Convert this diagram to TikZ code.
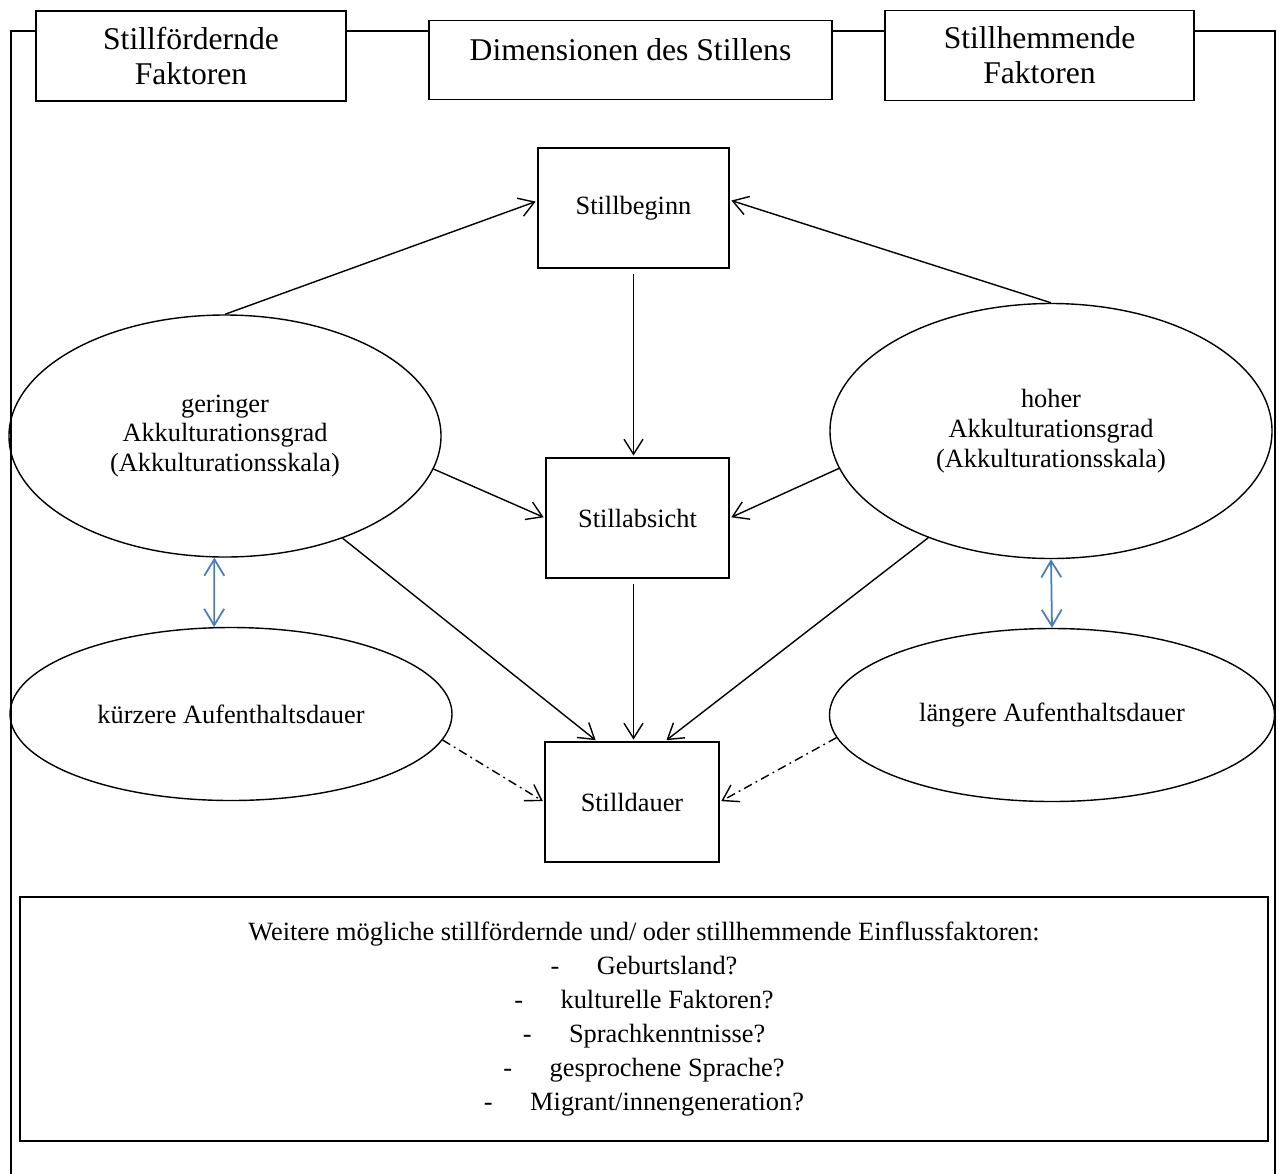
\documentclass[tikz,border=0pt]{standalone}
\usepackage{fontspec}
\setmainfont{Liberation Serif}
\usetikzlibrary{arrows.meta,shapes.geometric}
\definecolor{linkblue}{HTML}{4A7EBB}
\tikzset{
  head/.style={draw,line width=0.8pt,align=center,font=\fontsize{18}{20}\selectfont},
  dim/.style={draw,line width=0.8pt,fill=white,font=\fontsize{15}{17}\selectfont,minimum height=2.4cm},
  ellip/.style={draw,ellipse,line width=0.8pt,inner sep=0pt,align=center,font=\fontsize{15}{17}\selectfont},
  frame/.style={line width=0.8pt},
  arr/.style={-{Straight Barb[length=3mm,width=3.8mm]},line width=0.8pt,shorten >=1pt},
  arrdot/.style={arr,dash pattern=on 5pt off 2.5pt on 1pt off 2.5pt},
  arrblue/.style={{Straight Barb[length=3.3mm,width=4mm]}-{Straight Barb[length=3.3mm,width=4mm]},draw=linkblue,line width=1pt}
}
\begin{document}
\begin{tikzpicture}[x=0.2mm,y=-0.2mm]
\path[use as bounding box] (0,0) rectangle (1279,1173);
% header
\node[head,minimum width=6.2cm,minimum height=1.8cm] (hfoerd) at (191,56) {Stillfördernde\\Faktoren};
\node[head,minimum width=8.06cm,minimum height=1.58cm,inner ysep=0pt,text height=0.8cm,text depth=0.78cm,anchor=north] (hdim) at (630.5,20) {Dimensionen des Stillens};
\node[head,minimum width=6.18cm,minimum height=1.8cm] (hhemm) at (1039.5,55.5) {Stillhemmende\\Faktoren};
\coordinate (tl) at (11,31); \coordinate (tr) at (1275,31);
\draw[frame] (11,1180) -- (tl) -- (tl -| hfoerd.west);
\draw[frame] (tl -| hfoerd.east) -- (tl -| hdim.west);
\draw[frame] (tl -| hdim.east) -- (tl -| hhemm.west);
\draw[frame] (tl -| hhemm.east) -- (tr) -- (1275,1180);
% dimensions
\node[dim,minimum width=3.82cm] (beginn) at (633.5,208) {Stillbeginn};
\node[dim,minimum width=3.66cm] (absicht) at (637.5,518) {Stillabsicht};
\node[dim,minimum width=3.48cm] (dauer) at (632,802) {Stilldauer};
% factors
\node[ellip,minimum width=8.64cm,minimum height=4.84cm] (gering) at (225,436) {geringer\\Akkulturationsgrad\\(Akkulturationsskala)};
\node[ellip,minimum width=8.84cm,minimum height=5.1cm] (hoch) at (1051,431) {hoher\\Akkulturationsgrad\\(Akkulturationsskala)};
\node[ellip,minimum width=8.84cm,minimum height=3.46cm] (kurz) at (231,714) {kürzere Aufenthaltsdauer};
\node[ellip,minimum width=8.9cm,minimum height=3.46cm] (lang) at (1052,715) {längere Aufenthaltsdauer};
% connectors
\draw[arr] (gering.north) -- ([yshift=0.14cm]beginn.west);
\draw[arr] (hoch.north) -- ([yshift=0.16cm]beginn.east);
\draw[arr,shorten <=3pt] (beginn.south) -- (beginn.south |- absicht.north);
\draw[arr] (gering.-9) -- (absicht.west);
\draw[arr] (hoch.190) -- (absicht.east);
\draw[arr] (gering.-41) -- ([xshift=-0.7cm]dauer.north);
\draw[arr,shorten <=3pt] (absicht.south -| beginn.south) -- (dauer.north -| beginn.south);
\draw[arr] (hoch.221) -- ([xshift=0.66cm]dauer.north);
\draw[arrdot] (kurz.-7) -- (dauer.west);
\draw[arrdot] (lang.186) -- (dauer.east);
\draw[arrblue] (gering.265) -- (kurz.101);
\draw[arrblue] (hoch.south) -- (lang.north);
% further factors
\node[draw,line width=0.8pt,minimum width=24.96cm,minimum height=4.88cm,align=center,font=\fontsize{15}{19.3}\selectfont] (weitere) at (644,1019) {Weitere mögliche stillfördernde und/ oder stillhemmende Einflussfaktoren:\\-\hspace{0.75cm}Geburtsland?\\-\hspace{0.75cm}kulturelle Faktoren?\\-\hspace{0.75cm}Sprachkenntnisse?\\-\hspace{0.75cm}gesprochene Sprache?\\-\hspace{0.75cm}Migrant/innengeneration?};
\end{tikzpicture}
\end{document}
